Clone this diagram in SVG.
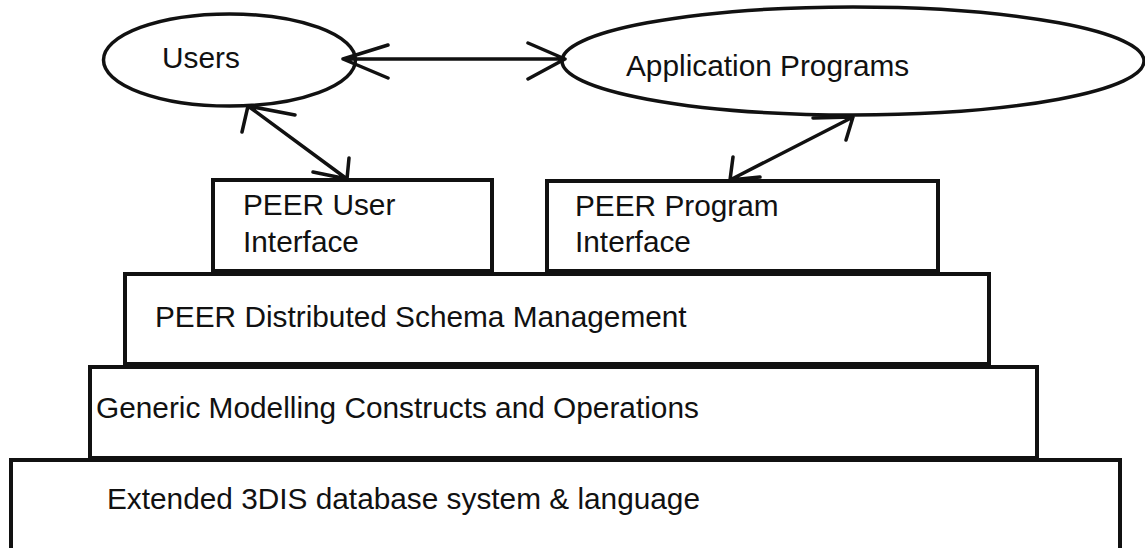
<svg xmlns="http://www.w3.org/2000/svg" width="1145" height="548" viewBox="0 0 1145 548">
<style>
.shape{fill:#fff;stroke:#111;stroke-width:4}
.ell{fill:#fff;stroke:#111;stroke-width:3.5}
.conn{fill:none;stroke:#111;stroke-width:3.5;stroke-linecap:round;stroke-linejoin:round}
.lbl{font-family:"Liberation Sans",Arial,sans-serif;font-size:29.8px;fill:#111}
</style>
<rect width="1145" height="548" fill="#fff"/>
<g id="node-extended">
<rect class="shape" x="11" y="460" width="1109" height="110"/>
<text class="lbl" x="107" y="509">Extended 3DIS database system &amp; language</text>
</g>
<g id="node-generic">
<rect class="shape" x="90" y="367" width="947" height="91"/>
<text class="lbl" x="96" y="418">Generic Modelling Constructs and Operations</text>
</g>
<g id="node-schema">
<rect class="shape" x="125" y="274" width="864" height="90"/>
<text class="lbl" x="155" y="327">PEER Distributed Schema Management</text>
</g>
<g id="node-user-interface">
<rect class="shape" x="213" y="180" width="279" height="91"/>
<text class="lbl" x="243" y="215">PEER User</text>
<text class="lbl" x="243" y="252">Interface</text>
</g>
<g id="node-program-interface">
<rect class="shape" x="547" y="181" width="391" height="90"/>
<text class="lbl" x="575" y="216">PEER Program</text>
<text class="lbl" x="575" y="252">Interface</text>
</g>
<g id="node-users">
<ellipse class="ell" cx="229.5" cy="60" rx="126" ry="46"/>
<text class="lbl" x="162" y="68">Users</text>
</g>
<g id="node-application-programs">
<ellipse class="ell" cx="853" cy="61" rx="291" ry="54"/>
<text class="lbl" x="626" y="76">Application Programs</text>
</g>
<g id="connectors">
<path class="conn" d="M343 59 L565 59 M388 45 L343 59 L388 78 M528 43 L565 59 L528 79"/>
<path class="conn" d="M248 106 L347 179 M295 115 L248 106 L242 132 M349 158 L347 179 L313 172"/>
<path class="conn" d="M853 117 L730 180 M813 118 L853 117 L846 140 M733 157 L730 180 L760 177"/>
</g>
</svg>
